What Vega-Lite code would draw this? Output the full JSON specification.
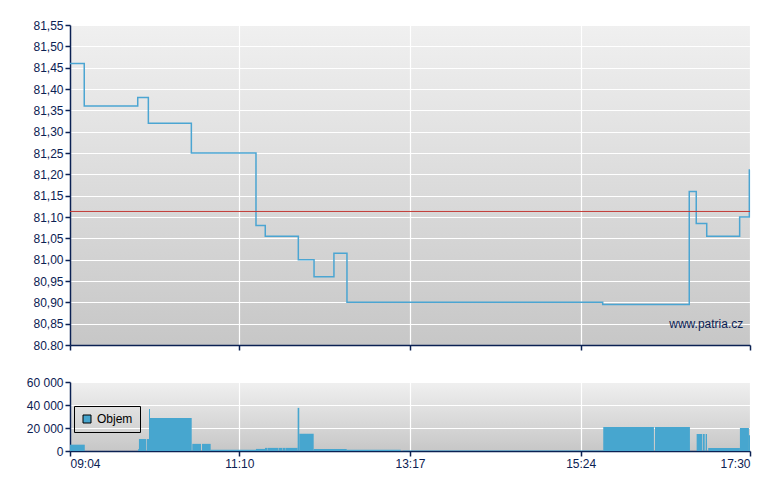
{
  "$schema": "https://vega.github.io/schema/vega-lite/v6.json",
  "padding": {"left": 26, "top": 19, "right": 5, "bottom": 5},
  "background": "white",
  "config": {
    "font": "Liberation Sans",
    "axis": {
      "labelFont": "Liberation Sans", "labelFontSize": 12, "labelColor": "#0b2153",
      "domainColor": "#0b2153", "tickColor": "#0b2153", "domainWidth": 1.5, "tickWidth": 1.5,
      "tickSize": 5, "labelPadding": 2, "gridColor": "#ffffff", "gridWidth": 1.2, "gridOpacity": 1, "title": null,
      "labelOverlap": false
    },
    "view": {"stroke": null},
    "concat": {"spacing": 25}
  },
  "resolve": {"scale": {"color": "independent"}, "legend": {"color": "independent"}},
  "datasets": {
    "price": [
      {"t": "2024-01-01T09:04:00", "p": 81.46},
      {"t": "2024-01-01T09:14:36", "p": 81.36},
      {"t": "2024-01-01T09:54:24", "p": 81.38},
      {"t": "2024-01-01T10:02:18", "p": 81.32},
      {"t": "2024-01-01T10:34:18", "p": 81.25},
      {"t": "2024-01-01T11:22:24", "p": 81.08},
      {"t": "2024-01-01T11:29:18", "p": 81.055},
      {"t": "2024-01-01T11:53:54", "p": 81.0},
      {"t": "2024-01-01T12:05:36", "p": 80.96},
      {"t": "2024-01-01T12:20:24", "p": 81.015},
      {"t": "2024-01-01T12:30:06", "p": 80.9},
      {"t": "2024-01-01T15:40:24", "p": 80.895},
      {"t": "2024-01-01T16:44:48", "p": 81.16},
      {"t": "2024-01-01T16:50:00", "p": 81.085},
      {"t": "2024-01-01T16:57:48", "p": 81.055},
      {"t": "2024-01-01T17:22:18", "p": 81.1},
      {"t": "2024-01-01T17:29:30", "p": 81.21},
      {"t": "2024-01-01T17:30:00", "p": 81.21}
    ],
    "volume": [
      {"t0": "2024-01-01T09:04:00", "t1": "2024-01-01T09:15:00", "v": 5500, "s": "Objem"},
      {"t0": "2024-01-01T09:54:36", "t1": "2024-01-01T09:55:18", "v": 1500, "s": "Objem"},
      {"t0": "2024-01-01T09:55:18", "t1": "2024-01-01T10:00:33", "v": 10400, "s": "Objem"},
      {"t0": "2024-01-01T10:01:04", "t1": "2024-01-01T10:02:47", "v": 10400, "s": "Objem"},
      {"t0": "2024-01-01T10:02:47", "t1": "2024-01-01T10:03:32", "v": 36500, "s": "Objem"},
      {"t0": "2024-01-01T10:03:32", "t1": "2024-01-01T10:34:34", "v": 28700, "s": "Objem"},
      {"t0": "2024-01-01T10:35:00", "t1": "2024-01-01T10:41:28", "v": 6200, "s": "Objem"},
      {"t0": "2024-01-01T10:42:13", "t1": "2024-01-01T10:48:41", "v": 6200, "s": "Objem"},
      {"t0": "2024-01-01T10:48:41", "t1": "2024-01-01T11:22:24", "v": 1000, "s": "Objem"},
      {"t0": "2024-01-01T11:22:24", "t1": "2024-01-01T11:29:05", "v": 1800, "s": "Objem"},
      {"t0": "2024-01-01T11:29:05", "t1": "2024-01-01T11:31:00", "v": 2700, "s": "Objem"},
      {"t0": "2024-01-01T11:31:15", "t1": "2024-01-01T11:39:00", "v": 2700, "s": "Objem"},
      {"t0": "2024-01-01T11:39:15", "t1": "2024-01-01T11:42:00", "v": 2700, "s": "Objem"},
      {"t0": "2024-01-01T11:42:15", "t1": "2024-01-01T11:44:00", "v": 2700, "s": "Objem"},
      {"t0": "2024-01-01T11:44:15", "t1": "2024-01-01T11:53:24", "v": 2700, "s": "Objem"},
      {"t0": "2024-01-01T11:53:24", "t1": "2024-01-01T11:54:36", "v": 37500, "s": "Objem"},
      {"t0": "2024-01-01T11:54:36", "t1": "2024-01-01T12:05:20", "v": 15000, "s": "Objem"},
      {"t0": "2024-01-01T12:05:20", "t1": "2024-01-01T12:29:54", "v": 1800, "s": "Objem"},
      {"t0": "2024-01-01T12:29:54", "t1": "2024-01-01T13:10:06", "v": 1000, "s": "Objem"},
      {"t0": "2024-01-01T13:11:36", "t1": "2024-01-01T15:40:48", "v": 500, "s": "Objem"},
      {"t0": "2024-01-01T15:40:48", "t1": "2024-01-01T16:18:30", "v": 20900, "s": "Objem"},
      {"t0": "2024-01-01T16:19:18", "t1": "2024-01-01T16:45:18", "v": 20900, "s": "Objem"},
      {"t0": "2024-01-01T16:50:18", "t1": "2024-01-01T16:54:18", "v": 14800, "s": "Objem"},
      {"t0": "2024-01-01T16:54:48", "t1": "2024-01-01T16:56:18", "v": 14800, "s": "Objem"},
      {"t0": "2024-01-01T16:57:00", "t1": "2024-01-01T16:58:00", "v": 14800, "s": "Objem"},
      {"t0": "2024-01-01T16:58:54", "t1": "2024-01-01T17:22:30", "v": 2600, "s": "Objem"},
      {"t0": "2024-01-01T17:22:30", "t1": "2024-01-01T17:29:12", "v": 20000, "s": "Objem"},
      {"t0": "2024-01-01T17:29:12", "t1": "2024-01-01T17:30:00", "v": 13600, "s": "Objem"}
    ]
  },
  "vconcat": [
    {
      "width": 680,
      "height": 320,
      "view": {
        "stroke": null,
        "fill": {"gradient": "linear", "x1": 0, "y1": 0, "x2": 0, "y2": 1,
          "stops": [{"offset": 0, "color": "#f0f0f0"}, {"offset": 1, "color": "#c7c7c7"}]}
      },
      "layer": [
        {
          "data": {"name": "price"},
          "mark": {"type": "line", "interpolate": "step-after", "color": "#4ba5d2", "strokeWidth": 1.5},
          "encoding": {
            "x": {
              "field": "t", "type": "temporal",
              "scale": {"domain": [
                {"year": 2024, "month": 1, "date": 1, "hours": 9, "minutes": 4},
                {"year": 2024, "month": 1, "date": 1, "hours": 17, "minutes": 30}
              ]},
              "axis": {
                "labels": false, "grid": true,
                "values": [
                  {"year": 2024, "month": 1, "date": 1, "hours": 9, "minutes": 4},
                  {"year": 2024, "month": 1, "date": 1, "hours": 11, "minutes": 10},
                  {"year": 2024, "month": 1, "date": 1, "hours": 13, "minutes": 17},
                  {"year": 2024, "month": 1, "date": 1, "hours": 15, "minutes": 24},
                  {"year": 2024, "month": 1, "date": 1, "hours": 17, "minutes": 30}
                ]
              }
            },
            "y": {
              "field": "p", "type": "quantitative",
              "scale": {"domain": [80.8, 81.55], "zero": false, "nice": false},
              "axis": {
                "grid": true, "labelOverlap": false,
                "values": [80.8, 80.85, 80.9, 80.95, 81.0, 81.05, 81.1, 81.15, 81.2, 81.25, 81.3, 81.35, 81.4, 81.45, 81.5, 81.55],
                "labelExpr": "datum.value < 80.81 ? '80.80' : replace(format(datum.value, '.2f'), '.', ',')"
              }
            }
          }
        },
        {
          "data": {"values": [{}]},
          "mark": {"type": "rule", "color": "#c23a36", "strokeWidth": 1},
          "encoding": {
            "y": {"datum": 81.113, "type": "quantitative",
              "axis": {
                "grid": true, "labelOverlap": false,
                "values": [80.8, 80.85, 80.9, 80.95, 81.0, 81.05, 81.1, 81.15, 81.2, 81.25, 81.3, 81.35, 81.4, 81.45, 81.5, 81.55],
                "labelExpr": "datum.value < 80.81 ? '80.80' : replace(format(datum.value, '.2f'), '.', ',')"
              }
            }
          }
        },
        {
          "data": {"values": [{}]},
          "mark": {"type": "text", "align": "right", "baseline": "middle", "fontSize": 12, "font": "Liberation Sans", "color": "#0b2153"},
          "encoding": {
            "x": {"datum": {"year": 2024, "month": 1, "date": 1, "hours": 17, "minutes": 25}, "type": "temporal"},
            "y": {"datum": 80.849, "type": "quantitative",
              "axis": {
                "grid": true, "labelOverlap": false,
                "values": [80.8, 80.85, 80.9, 80.95, 81.0, 81.05, 81.1, 81.15, 81.2, 81.25, 81.3, 81.35, 81.4, 81.45, 81.5, 81.55],
                "labelExpr": "datum.value < 80.81 ? '80.80' : replace(format(datum.value, '.2f'), '.', ',')"
              }
            },
            "text": {"value": "www.patria.cz"}
          }
        }
      ]
    },
    {
      "width": 680,
      "height": 69,
      "view": {
        "stroke": null,
        "fill": {"gradient": "linear", "x1": 0, "y1": 0, "x2": 0, "y2": 1,
          "stops": [{"offset": 0, "color": "#f0f0f0"}, {"offset": 1, "color": "#c7c7c7"}]}
      },
      "data": {"name": "volume"},
      "mark": {"type": "rect", "opacity": 1},
      "encoding": {
        "x": {
          "field": "t0", "type": "temporal",
          "scale": {"domain": [
            {"year": 2024, "month": 1, "date": 1, "hours": 9, "minutes": 4},
            {"year": 2024, "month": 1, "date": 1, "hours": 17, "minutes": 30}
          ]},
          "axis": {
            "grid": true, "format": "%H:%M",
            "values": [
              {"year": 2024, "month": 1, "date": 1, "hours": 9, "minutes": 4},
              {"year": 2024, "month": 1, "date": 1, "hours": 11, "minutes": 10},
              {"year": 2024, "month": 1, "date": 1, "hours": 13, "minutes": 17},
              {"year": 2024, "month": 1, "date": 1, "hours": 15, "minutes": 24},
              {"year": 2024, "month": 1, "date": 1, "hours": 17, "minutes": 30}
            ]
          }
        },
        "x2": {"field": "t1"},
        "y": {
          "field": "v", "type": "quantitative",
          "scale": {"domain": [0, 60000], "nice": false},
          "axis": {
            "grid": true, "values": [0, 20000, 40000, 60000],
            "labelExpr": "replace(format(datum.value, ',d'), ',', ' ')"
          }
        },
        "y2": {"datum": 0},
        "color": {
          "field": "s", "type": "nominal",
          "scale": {"range": ["#47a6cf"]},
          "legend": {
            "title": null, "orient": "none", "legendX": 4, "legendY": 24,
            "strokeColor": "#000000", "padding": 7, "cornerRadius": 0,
            "symbolType": "square", "symbolSize": 64, "symbolStrokeColor": "#000000", "symbolStrokeWidth": 1,
            "symbolOpacity": 1, "labelFontSize": 12, "labelFont": "Liberation Sans", "labelColor": "#000000", "labelOffset": 4
          }
        }
      }
    }
  ]
}
